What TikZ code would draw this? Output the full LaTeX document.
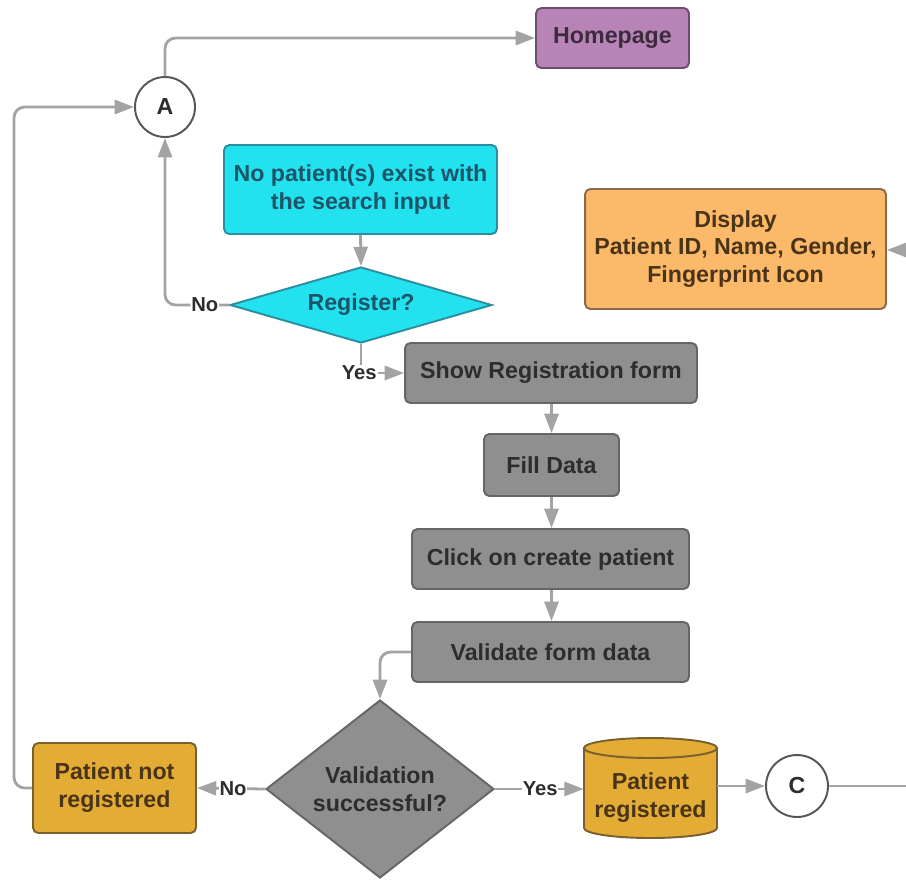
\documentclass[tikz,border=0pt]{standalone}
\usepackage{fontspec}
\setmainfont{Liberation Sans}
\usetikzlibrary{shapes.geometric,arrows.meta}
\definecolor{lineg}{HTML}{A3A3A3}
\definecolor{purfill}{HTML}{B784B7}
\definecolor{purdraw}{HTML}{6D4F6D}
\definecolor{purtext}{HTML}{3D2B3D}
\definecolor{cyfill}{HTML}{22E2F0}
\definecolor{cydraw}{HTML}{2B8FA0}
\definecolor{cytext}{HTML}{1C5468}
\definecolor{orfill}{HTML}{FDB96A}
\definecolor{ordraw}{HTML}{8A6A4A}
\definecolor{brtext}{HTML}{4A3418}
\definecolor{gofill}{HTML}{E3AD35}
\definecolor{godraw}{HTML}{7A6030}
\definecolor{grfill}{HTML}{8F8F8F}
\definecolor{grdraw}{HTML}{666666}
\definecolor{grtext}{HTML}{2D2D2D}
\definecolor{cidraw}{HTML}{555555}
\tikzset{
  every node/.style={font=\bfseries\fontsize{13.2pt}{15.9pt}\selectfont, align=center, inner sep=0pt},
  box/.style={rectangle, rounded corners=3pt, draw, line width=1.1pt},
  graybox/.style={box, fill=grfill, draw=grdraw, text=grtext},
  conn/.style={circle, draw=cidraw, fill=white, line width=1.1pt, text=grtext},
  dia/.style={diamond, draw, line width=1.1pt},
  lbl/.style={font=\bfseries\fontsize{11.5pt}{12pt}\selectfont, text=grtext, fill=white, inner sep=0.5pt},
  arr/.style={draw=lineg, line width=1.6pt, -{Triangle[length=11pt,width=8pt,color=lineg]}},
  ln/.style={draw=lineg, line width=1.6pt},
}
\begin{document}
\begin{tikzpicture}[x=0.02cm,y=-0.02cm]
\useasboundingbox (0,0) rectangle (906,880);

\node[box, fill=purfill, draw=purdraw, text=purtext, minimum width=3.06cm, minimum height=1.2cm] (home) at (612.5,38) {Homepage};
\node[conn, minimum size=1.2cm] (A) at (165,107) {A};
\node[box, fill=cyfill, draw=cydraw, text=cytext, minimum width=5.46cm, minimum height=1.78cm] (nopat) at (360.5,189.5) {No patient(s) exist with\\the search input};
\node[dia, fill=cyfill, draw=cydraw, text=cytext, minimum width=5.24cm, minimum height=1.52cm, aspect=3.45] (reg) at (361,305) {Register?};
\node[box, fill=orfill, draw=ordraw, text=brtext, minimum width=6.02cm, minimum height=2.4cm] (disp) at (735.5,249) {Display\\Patient ID, Name, Gender,\\Fingerprint Icon};
\node[graybox, minimum width=5.84cm, minimum height=1.2cm] (show) at (551,373) {Show Registration form};
\node[graybox, minimum width=2.7cm, minimum height=1.24cm] (fill) at (551.5,465) {Fill Data};
\node[graybox, minimum width=5.54cm, minimum height=1.2cm] (click) at (550.5,559) {Click on create patient};
\node[graybox, minimum width=5.54cm, minimum height=1.2cm] (valid) at (550.5,652) {Validate form data};
\node[dia, fill=grfill, draw=grdraw, text=grtext, minimum width=4.56cm, minimum height=3.56cm, aspect=1.28] (vs) at (380,789) {Validation\\successful?};
\node[box, fill=gofill, draw=godraw, text=brtext, minimum width=3.26cm, minimum height=1.8cm] (notreg) at (114.5,788) {Patient not\\registered};
% cylinder
\draw[fill=gofill, draw=godraw, line width=1.1pt] (584,748) -- (584,828) arc[start angle=180, end angle=0, x radius=66.5, y radius=10] -- (717,748) -- cycle;
\draw[fill=gofill, draw=godraw, line width=1.1pt] (650.5,748) ellipse[x radius=66.5, y radius=10];
\node[text=brtext, minimum width=2.66cm, minimum height=2cm] (preg) at (650.5,798) {Patient\\registered};
\node[conn, minimum size=1.24cm] (C) at (797,786) {C};
\coordinate (redge) at (906,786);
\coordinate (dedge) at (906,250);

% connectors
\draw[arr, rounded corners=6pt] (A.north) |- (home.west);
\draw[arr] (nopat.south) -- (reg.north);
\draw[arr, rounded corners=6pt] (reg.west) -| node[lbl, pos=0.19] {No} (A.south);
\draw[arr] (reg.south) |- node[lbl, pos=0.5, xshift=-1pt] {Yes} (show.west);
\draw[arr] (show.south -| fill.north) -- (fill.north);
\draw[arr] (fill.south) -- (fill.south |- click.north);
\draw[arr] (click.south -| fill.south) -- (fill.south |- valid.north);
\draw[arr, rounded corners=6pt] (valid.west) -| (vs.north);
\draw[arr] (vs.west) -- node[lbl, pos=0.47] {No} (notreg.east);
\draw[arr, rounded corners=6pt] (notreg.west) -- ++(-18,0) |- (A.west);
\draw[arr] (vs.east) -- node[lbl, pos=0.51] {Yes} (preg.west |- vs.east);
\draw[arr] (preg.east |- C.west) -- (C.west);
\draw[ln] (C.east) -- (redge);
\draw[arr] (dedge) -- (disp.east |- dedge);
\end{tikzpicture}
\end{document}
